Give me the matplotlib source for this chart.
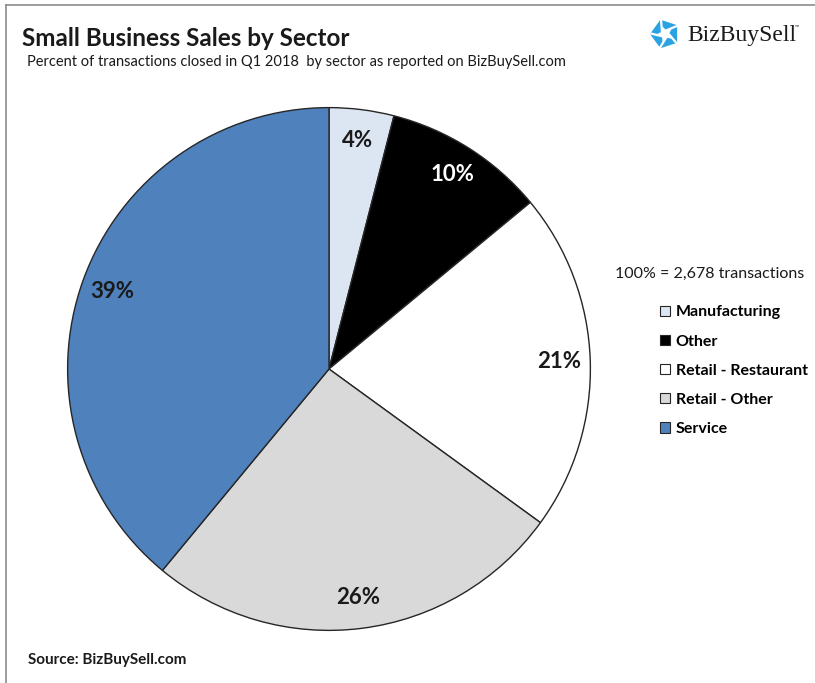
import matplotlib
matplotlib.use("Agg")
import matplotlib.pyplot as plt
from matplotlib.patches import Polygon
from matplotlib.lines import Line2D
import numpy as np

sectors = ["Manufacturing", "Other", "Retail - Restaurant", "Retail - Other", "Service"]
shares = [4, 10, 21, 26, 39]
colors = ["#dce6f2", "#000000", "#ffffff", "#d9d9d9", "#4f81bd"]
label_colors = ["#1a1a1a", "#ffffff", "#1a1a1a", "#1a1a1a", "#1a1a1a"]
total_transactions = "2,678"

W, H = 815, 683
fig = plt.figure(figsize=(W / 100, H / 100), dpi=100)
fig.patch.set_facecolor("white")

FONT = ["Lato", "DejaVu Sans"]


def fx(px):
    return px / W


def fy(py):
    return 1 - py / H


# frame lines along top and left edges
fig.add_artist(Line2D([fx(6), 1], [fy(5), fy(5)], color="#8c8c8c", lw=1.2))
fig.add_artist(Line2D([fx(6), fx(6)], [fy(5), 0], color="#8c8c8c", lw=1.2))

# pie
cx, cy, r = 329, 369, 264
ax = fig.add_axes([fx(cx - r), fy(cy + r), 2 * r / W, 2 * r / H])
wedges, _, autotexts = ax.pie(
    shares,
    colors=colors,
    startangle=90,
    counterclock=False,
    radius=1,
    autopct=lambda p: f"{round(p):d}%",
    pctdistance=0.88,
    wedgeprops=dict(edgecolor="#262626", linewidth=1.0),
    textprops=dict(fontsize=16, fontweight="bold", family=FONT),
)
for t, c in zip(autotexts, label_colors):
    t.set_color(c)
ax.set_xlim(-1.01, 1.01)
ax.set_ylim(-1.01, 1.01)
ax.set_aspect("equal")
ax.axis("off")

# titles
fig.text(fx(22), fy(38), "Small Business Sales by Sector", fontsize=17.5, fontweight="bold",
         family=FONT, color="#1a1a1a", va="center", ha="left")
fig.text(fx(27), fy(62), "Percent of transactions closed in Q1 2018  by sector as reported on BizBuySell.com",
         fontsize=10.5, family=FONT, color="#1a1a1a", va="center", ha="left")
fig.text(fx(28), fy(660), "Source: BizBuySell.com", fontsize=11, fontweight="bold",
         family=FONT, color="#1a1a1a", va="center", ha="left")

# total note and legend
fig.text(fx(615), fy(274), f"100% = {total_transactions} transactions", fontsize=11.5,
         family=FONT, color="#1a1a1a", va="center", ha="left")
leg = fig.legend(
    wedges, sectors,
    loc="upper left",
    bbox_to_anchor=(fx(646), fy(291)),
    frameon=False,
    handlelength=0.62, handleheight=0.62, handletextpad=0.35,
    labelspacing=0.95,
    prop=dict(family=FONT, weight="bold", size=11.5),
)
for h in leg.legend_handles:
    h.set_edgecolor("#262626")
    h.set_linewidth(0.8)

# logo mark: blue pentagon with a white star cut into it
lcx, lcy = 665, 34
blue = "#2aa3e3"


def pt(rad, deg):
    a = np.deg2rad(deg)
    return (fx(lcx + rad * np.cos(a)), fy(lcy - rad * np.sin(a)))


pent = [pt(15, 90 + 72 * k + 18) for k in range(5)]
fig.add_artist(Polygon(pent, closed=True, facecolor=blue, edgecolor="none",
                       transform=fig.transFigure))
star = []
for k in range(10):
    rad = 8 if k % 2 == 0 else 3.8
    star.append(pt(rad, 90 + 36 * k + 18))
fig.add_artist(Polygon(star, closed=True, facecolor="white", edgecolor="none",
                       transform=fig.transFigure))
for k in range(5):
    a_in = 90 + 72 * k + 18 + 36
    p0 = pt(3.8, a_in)
    p1 = pt(17, a_in - 40)
    fig.add_artist(Line2D([p0[0], p1[0]], [p0[1], p1[1]], color="white", lw=1.6))
fig.text(fx(687), fy(35), "BizBuySell", fontsize=17, family=["Liberation Serif", "DejaVu Serif"],
         color="#1a1a1a", va="center", ha="left")
fig.text(fx(795), fy(27), "™", fontsize=4, family=FONT, color="#1a1a1a", va="center", ha="left")

fig.savefig("out.png", dpi=100, facecolor="white")
